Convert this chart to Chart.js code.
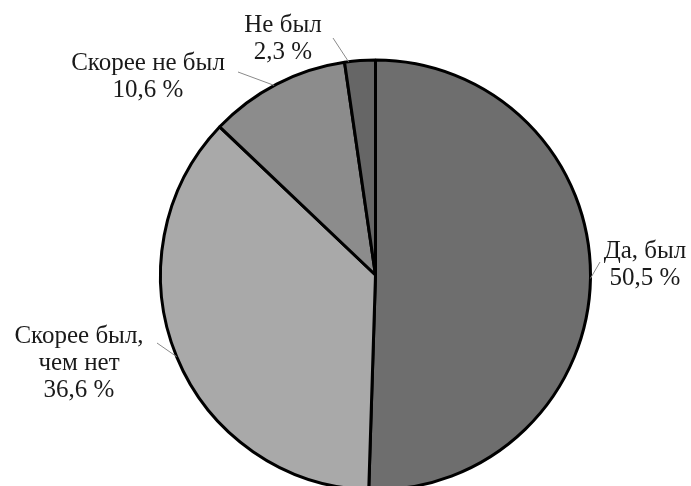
<!DOCTYPE html>
<html>
<head>
<meta charset="utf-8">
<script src="https://cdn.jsdelivr.net/npm/chart.js@4/dist/chart.umd.min.js"></script>
<style>
  html, body { margin: 0; padding: 0; background: #ffffff; overflow: hidden; }
  #wrap { width: 691px; height: 486px; overflow: hidden; }
</style>
</head>
<body>
<div id="wrap"><canvas id="c" width="691" height="550"></canvas></div>
<script>
const categories = ['Да, был', 'Скорее был, чем нет', 'Скорее не был', 'Не был'];
const values = [50.5, 36.6, 10.6, 2.3];
const valueLabels = ['50,5 %', '36,6 %', '10,6 %', '2,3 %'];
const labelLines = [['Да, был'], ['Скорее был,', 'чем нет'], ['Скорее не был'], ['Не был']];
const colors = ['#6e6e6e', '#a9a9a9', '#8c8c8c', '#666666'];

// label placement (text centre x, first baseline y, leader start, fraction along slice for leader end)
const labelPlacement = [
  { x: 645, y: 258, from: [600, 262], t: 0.5 },
  { x: 79,  y: 343, from: [157, 343], t: 0.5 },
  { x: 148, y: 70,  from: [238, 72],  t: 0.48 },
  { x: 283, y: 32,  from: [333, 38],  t: 0.13 }
];

const labelPlugin = {
  id: 'pieLabels',
  afterDraw(chart) {
    const ctx = chart.ctx;
    const meta = chart.getDatasetMeta(0);
    ctx.save();
    meta.data.forEach((arc, i) => {
      const p = labelPlacement[i];
      const a = arc.startAngle + (arc.endAngle - arc.startAngle) * p.t;
      const ex = arc.x + Math.cos(a) * arc.outerRadius;
      const ey = arc.y + Math.sin(a) * arc.outerRadius;
      ctx.strokeStyle = '#8a8a8a';
      ctx.lineWidth = 1;
      ctx.beginPath();
      ctx.moveTo(p.from[0], p.from[1]);
      ctx.lineTo(ex, ey);
      ctx.stroke();
      ctx.fillStyle = '#1a1a1a';
      ctx.font = '25px "Liberation Serif", "DejaVu Serif", serif';
      ctx.textAlign = 'center';
      ctx.textBaseline = 'alphabetic';
      const lines = labelLines[i].concat([valueLabels[i]]);
      lines.forEach((ln, k) => ctx.fillText(ln, p.x, p.y + k * 27));
    });
    ctx.restore();
  }
};

new Chart(document.getElementById('c'), {
  type: 'pie',
  data: {
    labels: categories,
    datasets: [{
      data: values,
      backgroundColor: colors,
      borderColor: '#000000',
      borderWidth: 3,
      radius: 215
    }]
  },
  options: {
    responsive: false,
    animation: false,
    devicePixelRatio: 1,
    layout: { padding: { left: 60, right: 0, top: 0, bottom: 0 } },
    plugins: {
      legend: { display: false },
      tooltip: { enabled: false }
    }
  },
  plugins: [labelPlugin]
});
</script>
</body>
</html>
